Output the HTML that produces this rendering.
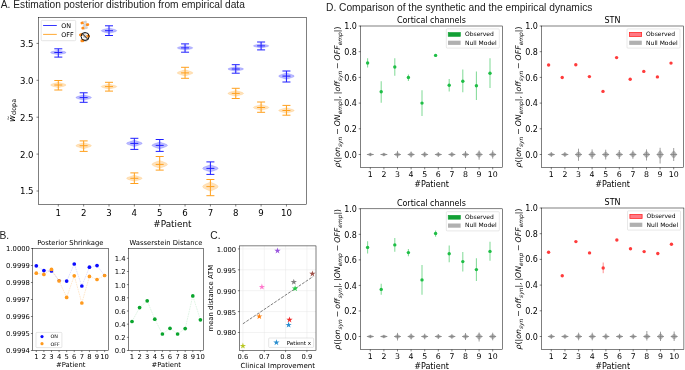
<!DOCTYPE html>
<html lang="en"><head><meta charset="utf-8"><title>Figure</title>
<style>
html,body{margin:0;padding:0;background:#fff}
body{width:685px;height:370px;overflow:hidden}
svg{display:block}
svg text{font-family:"DejaVu Sans","Liberation Sans",sans-serif;fill:#000;text-anchor:middle}
svg text.lb{font-family:"Liberation Sans","DejaVu Sans",sans-serif;fill:#222}
svg text.s{text-anchor:start}
svg text.e{text-anchor:end}
</style>
</head><body>
<svg width="685" height="370" viewBox="0 0 685 370" role="img" aria-label="Figure with panels A to D">
<rect width="685" height="370" fill="#fff"/>
<text class="lb s" x="0.80" y="7.90" font-size="10.2">A. Estimation posterior distribution from empirical data</text>
<text class="lb s" x="-0.60" y="238.90" font-size="10.25">B.</text>
<text class="lb s" x="210.30" y="238.90" font-size="10.25">C.</text>
<text class="lb s" x="326.00" y="10.80" font-size="10.23">D. Comparison of the synthetic and the empirical dynamics</text>
<rect x="38.50" y="17.50" width="268.00" height="187.00" fill="#fff" stroke="none"/>
<path d="M58.3,82.1 L59.3,82.5 L61.2,83.0 L63.1,83.5 L64.7,84.0 L65.7,84.5 L66.1,85.0 L65.7,85.5 L64.7,86.0 L63.1,86.5 L61.2,87.0 L59.3,87.5 L58.3,87.9 L58.3,87.9 L57.3,87.5 L55.4,87.0 L53.5,86.5 L51.9,86.0 L50.9,85.5 L50.5,85.0 L50.9,84.5 L51.9,84.0 L53.5,83.5 L55.4,83.0 L57.3,82.5 L58.3,82.1Z" fill="#ffa01e" fill-opacity="0.3" stroke="#ffa01e" stroke-opacity="0.3" stroke-width="0.5"/>
<g stroke="#ffa01e" stroke-width="1.0" fill="none"><line x1="58.30" y1="80.50" x2="58.30" y2="90.00"/><line x1="54.30" y1="80.50" x2="62.30" y2="80.50"/><line x1="54.30" y1="90.00" x2="62.30" y2="90.00"/><line x1="54.30" y1="85.00" x2="62.30" y2="85.00"/></g>
<path d="M83.7,142.4 L84.7,143.0 L86.5,143.5 L88.4,144.1 L90.0,144.6 L91.1,145.2 L91.5,145.7 L91.1,146.2 L90.0,146.8 L88.4,147.3 L86.5,147.9 L84.7,148.4 L83.7,149.0 L83.7,149.0 L82.6,148.4 L80.8,147.9 L78.9,147.3 L77.3,146.8 L76.2,146.2 L75.9,145.7 L76.2,145.2 L77.3,144.6 L78.9,144.1 L80.8,143.5 L82.6,143.0 L83.7,142.4Z" fill="#ffa01e" fill-opacity="0.3" stroke="#ffa01e" stroke-opacity="0.3" stroke-width="0.5"/>
<g stroke="#ffa01e" stroke-width="1.0" fill="none"><line x1="83.65" y1="140.90" x2="83.65" y2="151.40"/><line x1="79.65" y1="140.90" x2="87.65" y2="140.90"/><line x1="79.65" y1="151.40" x2="87.65" y2="151.40"/><line x1="79.65" y1="145.70" x2="87.65" y2="145.70"/></g>
<path d="M109.0,83.9 L110.0,84.3 L111.9,84.8 L113.8,85.2 L115.4,85.7 L116.4,86.1 L116.8,86.6 L116.4,87.1 L115.4,87.5 L113.8,88.0 L111.9,88.4 L110.0,88.9 L109.0,89.3 L109.0,89.3 L108.0,88.9 L106.1,88.4 L104.2,88.0 L102.6,87.5 L101.6,87.1 L101.2,86.6 L101.6,86.1 L102.6,85.7 L104.2,85.2 L106.1,84.8 L108.0,84.3 L109.0,83.9Z" fill="#ffa01e" fill-opacity="0.3" stroke="#ffa01e" stroke-opacity="0.3" stroke-width="0.5"/>
<g stroke="#ffa01e" stroke-width="1.0" fill="none"><line x1="109.00" y1="82.30" x2="109.00" y2="91.10"/><line x1="105.00" y1="82.30" x2="113.00" y2="82.30"/><line x1="105.00" y1="91.10" x2="113.00" y2="91.10"/><line x1="105.00" y1="86.60" x2="113.00" y2="86.60"/></g>
<path d="M134.4,175.0 L135.4,175.6 L137.2,176.1 L139.1,176.7 L140.7,177.2 L141.8,177.8 L142.2,178.3 L141.8,178.8 L140.7,179.4 L139.1,179.9 L137.2,180.5 L135.4,181.0 L134.4,181.6 L134.4,181.6 L133.3,181.0 L131.5,180.5 L129.6,179.9 L128.0,179.4 L126.9,178.8 L126.6,178.3 L126.9,177.8 L128.0,177.2 L129.6,176.7 L131.5,176.1 L133.3,175.6 L134.4,175.0Z" fill="#ffa01e" fill-opacity="0.3" stroke="#ffa01e" stroke-opacity="0.3" stroke-width="0.5"/>
<g stroke="#ffa01e" stroke-width="1.0" fill="none"><line x1="134.35" y1="172.90" x2="134.35" y2="183.50"/><line x1="130.35" y1="172.90" x2="138.35" y2="172.90"/><line x1="130.35" y1="183.50" x2="138.35" y2="183.50"/><line x1="130.35" y1="178.30" x2="138.35" y2="178.30"/></g>
<path d="M159.7,160.2 L160.7,160.9 L162.6,161.6 L164.5,162.3 L166.1,163.0 L167.1,163.7 L167.5,164.4 L167.1,165.1 L166.1,165.8 L164.5,166.5 L162.6,167.2 L160.7,167.9 L159.7,168.6 L159.7,168.6 L158.7,167.9 L156.8,167.2 L154.9,166.5 L153.3,165.8 L152.3,165.1 L151.9,164.4 L152.3,163.7 L153.3,163.0 L154.9,162.3 L156.8,161.6 L158.7,160.9 L159.7,160.2Z" fill="#ffa01e" fill-opacity="0.3" stroke="#ffa01e" stroke-opacity="0.3" stroke-width="0.5"/>
<g stroke="#ffa01e" stroke-width="1.0" fill="none"><line x1="159.70" y1="156.50" x2="159.70" y2="170.10"/><line x1="155.70" y1="156.50" x2="163.70" y2="156.50"/><line x1="155.70" y1="170.10" x2="163.70" y2="170.10"/><line x1="155.70" y1="164.40" x2="163.70" y2="164.40"/></g>
<path d="M185.1,69.5 L186.1,70.1 L187.9,70.6 L189.8,71.2 L191.4,71.8 L192.5,72.3 L192.9,72.9 L192.5,73.5 L191.4,74.0 L189.8,74.6 L187.9,75.2 L186.1,75.7 L185.1,76.3 L185.1,76.3 L184.0,75.7 L182.2,75.2 L180.3,74.6 L178.7,74.0 L177.6,73.5 L177.2,72.9 L177.6,72.3 L178.7,71.8 L180.3,71.2 L182.2,70.6 L184.0,70.1 L185.1,69.5Z" fill="#ffa01e" fill-opacity="0.3" stroke="#ffa01e" stroke-opacity="0.3" stroke-width="0.5"/>
<g stroke="#ffa01e" stroke-width="1.0" fill="none"><line x1="185.05" y1="67.30" x2="185.05" y2="78.30"/><line x1="181.05" y1="67.30" x2="189.05" y2="67.30"/><line x1="181.05" y1="78.30" x2="189.05" y2="78.30"/><line x1="181.05" y1="72.90" x2="189.05" y2="72.90"/></g>
<path d="M210.4,181.6 L211.4,182.4 L213.3,183.3 L215.2,184.1 L216.8,184.9 L217.8,185.8 L218.2,186.6 L217.8,187.4 L216.8,188.3 L215.2,189.1 L213.3,189.9 L211.4,190.8 L210.4,191.6 L210.4,191.6 L209.4,190.8 L207.5,189.9 L205.6,189.1 L204.0,188.3 L203.0,187.4 L202.6,186.6 L203.0,185.8 L204.0,184.9 L205.6,184.1 L207.5,183.3 L209.4,182.4 L210.4,181.6Z" fill="#ffa01e" fill-opacity="0.3" stroke="#ffa01e" stroke-opacity="0.3" stroke-width="0.5"/>
<g stroke="#ffa01e" stroke-width="1.0" fill="none"><line x1="210.40" y1="179.50" x2="210.40" y2="195.70"/><line x1="206.40" y1="179.50" x2="214.40" y2="179.50"/><line x1="206.40" y1="195.70" x2="214.40" y2="195.70"/><line x1="206.40" y1="186.60" x2="214.40" y2="186.60"/></g>
<path d="M235.8,90.2 L236.8,90.8 L238.6,91.3 L240.5,91.8 L242.1,92.3 L243.2,92.9 L243.6,93.4 L243.2,93.9 L242.1,94.5 L240.5,95.0 L238.6,95.5 L236.8,96.0 L235.8,96.6 L235.8,96.6 L234.7,96.0 L232.9,95.5 L231.0,95.0 L229.4,94.5 L228.3,93.9 L227.9,93.4 L228.3,92.9 L229.4,92.3 L231.0,91.8 L232.9,91.3 L234.7,90.8 L235.8,90.2Z" fill="#ffa01e" fill-opacity="0.3" stroke="#ffa01e" stroke-opacity="0.3" stroke-width="0.5"/>
<g stroke="#ffa01e" stroke-width="1.0" fill="none"><line x1="235.75" y1="88.30" x2="235.75" y2="98.50"/><line x1="231.75" y1="88.30" x2="239.75" y2="88.30"/><line x1="231.75" y1="98.50" x2="239.75" y2="98.50"/><line x1="231.75" y1="93.40" x2="239.75" y2="93.40"/></g>
<path d="M261.1,104.3 L262.1,104.8 L264.0,105.4 L265.9,105.9 L267.5,106.4 L268.5,107.0 L268.9,107.5 L268.5,108.0 L267.5,108.6 L265.9,109.1 L264.0,109.6 L262.1,110.2 L261.1,110.7 L261.1,110.7 L260.1,110.2 L258.2,109.6 L256.3,109.1 L254.7,108.6 L253.7,108.0 L253.3,107.5 L253.7,107.0 L254.7,106.4 L256.3,105.9 L258.2,105.4 L260.1,104.8 L261.1,104.3Z" fill="#ffa01e" fill-opacity="0.3" stroke="#ffa01e" stroke-opacity="0.3" stroke-width="0.5"/>
<g stroke="#ffa01e" stroke-width="1.0" fill="none"><line x1="261.10" y1="102.00" x2="261.10" y2="112.30"/><line x1="257.10" y1="102.00" x2="265.10" y2="102.00"/><line x1="257.10" y1="112.30" x2="265.10" y2="112.30"/><line x1="257.10" y1="107.50" x2="265.10" y2="107.50"/></g>
<path d="M286.4,107.5 L287.5,108.0 L289.3,108.5 L291.2,109.0 L292.8,109.5 L293.9,110.0 L294.2,110.5 L293.9,111.0 L292.8,111.5 L291.2,112.0 L289.3,112.5 L287.5,113.0 L286.4,113.5 L286.4,113.5 L285.4,113.0 L283.6,112.5 L281.7,112.0 L280.1,111.5 L279.0,111.0 L278.6,110.5 L279.0,110.0 L280.1,109.5 L281.7,109.0 L283.6,108.5 L285.4,108.0 L286.4,107.5Z" fill="#ffa01e" fill-opacity="0.3" stroke="#ffa01e" stroke-opacity="0.3" stroke-width="0.5"/>
<g stroke="#ffa01e" stroke-width="1.0" fill="none"><line x1="286.45" y1="105.40" x2="286.45" y2="115.20"/><line x1="282.45" y1="105.40" x2="290.45" y2="105.40"/><line x1="282.45" y1="115.20" x2="290.45" y2="115.20"/><line x1="282.45" y1="110.50" x2="290.45" y2="110.50"/></g>
<path d="M58.3,49.9 L59.3,50.4 L61.2,50.8 L63.1,51.2 L64.7,51.6 L65.7,52.1 L66.1,52.5 L65.7,52.9 L64.7,53.4 L63.1,53.8 L61.2,54.2 L59.3,54.6 L58.3,55.1 L58.3,55.1 L57.3,54.6 L55.4,54.2 L53.5,53.8 L51.9,53.4 L50.9,52.9 L50.5,52.5 L50.9,52.1 L51.9,51.6 L53.5,51.2 L55.4,50.8 L57.3,50.4 L58.3,49.9Z" fill="#1f1fff" fill-opacity="0.3" stroke="#1f1fff" stroke-opacity="0.3" stroke-width="0.5"/>
<g stroke="#1f1fff" stroke-width="1.0" fill="none"><line x1="58.30" y1="48.80" x2="58.30" y2="57.10"/><line x1="54.30" y1="48.80" x2="62.30" y2="48.80"/><line x1="54.30" y1="57.10" x2="62.30" y2="57.10"/><line x1="54.30" y1="52.50" x2="62.30" y2="52.50"/></g>
<path d="M83.7,94.7 L84.7,95.1 L86.5,95.6 L88.4,96.1 L90.0,96.6 L91.1,97.1 L91.5,97.6 L91.1,98.1 L90.0,98.6 L88.4,99.1 L86.5,99.6 L84.7,100.1 L83.7,100.5 L83.7,100.5 L82.6,100.1 L80.8,99.6 L78.9,99.1 L77.3,98.6 L76.2,98.1 L75.9,97.6 L76.2,97.1 L77.3,96.6 L78.9,96.1 L80.8,95.6 L82.6,95.1 L83.7,94.7Z" fill="#1f1fff" fill-opacity="0.3" stroke="#1f1fff" stroke-opacity="0.3" stroke-width="0.5"/>
<g stroke="#1f1fff" stroke-width="1.0" fill="none"><line x1="83.65" y1="92.80" x2="83.65" y2="102.30"/><line x1="79.65" y1="92.80" x2="87.65" y2="92.80"/><line x1="79.65" y1="102.30" x2="87.65" y2="102.30"/><line x1="79.65" y1="97.60" x2="87.65" y2="97.60"/></g>
<path d="M109.0,27.7 L110.0,28.2 L111.9,28.7 L113.8,29.2 L115.4,29.7 L116.4,30.2 L116.8,30.7 L116.4,31.2 L115.4,31.7 L113.8,32.2 L111.9,32.7 L110.0,33.2 L109.0,33.7 L109.0,33.7 L108.0,33.2 L106.1,32.7 L104.2,32.2 L102.6,31.7 L101.6,31.2 L101.2,30.7 L101.6,30.2 L102.6,29.7 L104.2,29.2 L106.1,28.7 L108.0,28.2 L109.0,27.7Z" fill="#1f1fff" fill-opacity="0.3" stroke="#1f1fff" stroke-opacity="0.3" stroke-width="0.5"/>
<g stroke="#1f1fff" stroke-width="1.0" fill="none"><line x1="109.00" y1="25.80" x2="109.00" y2="35.50"/><line x1="105.00" y1="25.80" x2="113.00" y2="25.80"/><line x1="105.00" y1="35.50" x2="113.00" y2="35.50"/><line x1="105.00" y1="30.70" x2="113.00" y2="30.70"/></g>
<path d="M134.4,140.0 L135.4,140.5 L137.2,141.1 L139.1,141.7 L140.7,142.3 L141.8,142.8 L142.2,143.4 L141.8,144.0 L140.7,144.5 L139.1,145.1 L137.2,145.7 L135.4,146.3 L134.4,146.8 L134.4,146.8 L133.3,146.3 L131.5,145.7 L129.6,145.1 L128.0,144.5 L126.9,144.0 L126.6,143.4 L126.9,142.8 L128.0,142.3 L129.6,141.7 L131.5,141.1 L133.3,140.5 L134.4,140.0Z" fill="#1f1fff" fill-opacity="0.3" stroke="#1f1fff" stroke-opacity="0.3" stroke-width="0.5"/>
<g stroke="#1f1fff" stroke-width="1.0" fill="none"><line x1="134.35" y1="138.30" x2="134.35" y2="149.40"/><line x1="130.35" y1="138.30" x2="138.35" y2="138.30"/><line x1="130.35" y1="149.40" x2="138.35" y2="149.40"/><line x1="130.35" y1="143.40" x2="138.35" y2="143.40"/></g>
<path d="M159.7,141.7 L160.7,142.3 L162.6,142.9 L164.5,143.6 L166.1,144.2 L167.1,144.8 L167.5,145.4 L167.1,146.0 L166.1,146.6 L164.5,147.2 L162.6,147.9 L160.7,148.5 L159.7,149.1 L159.7,149.1 L158.7,148.5 L156.8,147.9 L154.9,147.2 L153.3,146.6 L152.3,146.0 L151.9,145.4 L152.3,144.8 L153.3,144.2 L154.9,143.6 L156.8,142.9 L158.7,142.3 L159.7,141.7Z" fill="#1f1fff" fill-opacity="0.3" stroke="#1f1fff" stroke-opacity="0.3" stroke-width="0.5"/>
<g stroke="#1f1fff" stroke-width="1.0" fill="none"><line x1="159.70" y1="139.50" x2="159.70" y2="151.40"/><line x1="155.70" y1="139.50" x2="163.70" y2="139.50"/><line x1="155.70" y1="151.40" x2="163.70" y2="151.40"/><line x1="155.70" y1="145.40" x2="163.70" y2="145.40"/></g>
<path d="M185.1,45.3 L186.1,45.8 L187.9,46.2 L189.8,46.6 L191.4,47.0 L192.5,47.5 L192.9,47.9 L192.5,48.3 L191.4,48.8 L189.8,49.2 L187.9,49.6 L186.1,50.0 L185.1,50.5 L185.1,50.5 L184.0,50.0 L182.2,49.6 L180.3,49.2 L178.7,48.8 L177.6,48.3 L177.2,47.9 L177.6,47.5 L178.7,47.0 L180.3,46.6 L182.2,46.2 L184.0,45.8 L185.1,45.3Z" fill="#1f1fff" fill-opacity="0.3" stroke="#1f1fff" stroke-opacity="0.3" stroke-width="0.5"/>
<g stroke="#1f1fff" stroke-width="1.0" fill="none"><line x1="185.05" y1="43.90" x2="185.05" y2="52.20"/><line x1="181.05" y1="43.90" x2="189.05" y2="43.90"/><line x1="181.05" y1="52.20" x2="189.05" y2="52.20"/><line x1="181.05" y1="47.90" x2="189.05" y2="47.90"/></g>
<path d="M210.4,164.5 L211.4,165.2 L213.3,165.8 L215.2,166.5 L216.8,167.1 L217.8,167.8 L218.2,168.4 L217.8,169.0 L216.8,169.7 L215.2,170.3 L213.3,171.0 L211.4,171.6 L210.4,172.3 L210.4,172.3 L209.4,171.6 L207.5,171.0 L205.6,170.3 L204.0,169.7 L203.0,169.0 L202.6,168.4 L203.0,167.8 L204.0,167.1 L205.6,166.5 L207.5,165.8 L209.4,165.2 L210.4,164.5Z" fill="#1f1fff" fill-opacity="0.3" stroke="#1f1fff" stroke-opacity="0.3" stroke-width="0.5"/>
<g stroke="#1f1fff" stroke-width="1.0" fill="none"><line x1="210.40" y1="161.90" x2="210.40" y2="174.40"/><line x1="206.40" y1="161.90" x2="214.40" y2="161.90"/><line x1="206.40" y1="174.40" x2="214.40" y2="174.40"/><line x1="206.40" y1="168.40" x2="214.40" y2="168.40"/></g>
<path d="M235.8,66.4 L236.8,66.8 L238.6,67.2 L240.5,67.7 L242.1,68.1 L243.2,68.6 L243.6,69.0 L243.2,69.4 L242.1,69.9 L240.5,70.3 L238.6,70.8 L236.8,71.2 L235.8,71.6 L235.8,71.6 L234.7,71.2 L232.9,70.8 L231.0,70.3 L229.4,69.9 L228.3,69.4 L227.9,69.0 L228.3,68.6 L229.4,68.1 L231.0,67.7 L232.9,67.2 L234.7,66.8 L235.8,66.4Z" fill="#1f1fff" fill-opacity="0.3" stroke="#1f1fff" stroke-opacity="0.3" stroke-width="0.5"/>
<g stroke="#1f1fff" stroke-width="1.0" fill="none"><line x1="235.75" y1="64.70" x2="235.75" y2="73.20"/><line x1="231.75" y1="64.70" x2="239.75" y2="64.70"/><line x1="231.75" y1="73.20" x2="239.75" y2="73.20"/><line x1="231.75" y1="69.00" x2="239.75" y2="69.00"/></g>
<path d="M261.1,43.5 L262.1,43.9 L264.0,44.3 L265.9,44.7 L267.5,45.1 L268.5,45.5 L268.9,45.9 L268.5,46.3 L267.5,46.7 L265.9,47.1 L264.0,47.5 L262.1,47.9 L261.1,48.3 L261.1,48.3 L260.1,47.9 L258.2,47.5 L256.3,47.1 L254.7,46.7 L253.7,46.3 L253.3,45.9 L253.7,45.5 L254.7,45.1 L256.3,44.7 L258.2,44.3 L260.1,43.9 L261.1,43.5Z" fill="#1f1fff" fill-opacity="0.3" stroke="#1f1fff" stroke-opacity="0.3" stroke-width="0.5"/>
<g stroke="#1f1fff" stroke-width="1.0" fill="none"><line x1="261.10" y1="42.00" x2="261.10" y2="49.90"/><line x1="257.10" y1="42.00" x2="265.10" y2="42.00"/><line x1="257.10" y1="49.90" x2="265.10" y2="49.90"/><line x1="257.10" y1="45.90" x2="265.10" y2="45.90"/></g>
<path d="M286.4,72.7 L287.5,73.3 L289.3,73.8 L291.2,74.4 L292.8,75.0 L293.9,75.5 L294.2,76.1 L293.9,76.7 L292.8,77.2 L291.2,77.8 L289.3,78.4 L287.5,78.9 L286.4,79.5 L286.4,79.5 L285.4,78.9 L283.6,78.4 L281.7,77.8 L280.1,77.2 L279.0,76.7 L278.6,76.1 L279.0,75.5 L280.1,75.0 L281.7,74.4 L283.6,73.8 L285.4,73.3 L286.4,72.7Z" fill="#1f1fff" fill-opacity="0.3" stroke="#1f1fff" stroke-opacity="0.3" stroke-width="0.5"/>
<g stroke="#1f1fff" stroke-width="1.0" fill="none"><line x1="286.45" y1="71.00" x2="286.45" y2="82.00"/><line x1="282.45" y1="71.00" x2="290.45" y2="71.00"/><line x1="282.45" y1="82.00" x2="290.45" y2="82.00"/><line x1="282.45" y1="76.10" x2="290.45" y2="76.10"/></g>
<rect x="38.50" y="17.50" width="268.00" height="187.00" fill="none" stroke="#000" stroke-width="0.5"/>
<line x1="58.30" y1="204.50" x2="58.30" y2="206.50" stroke="#000" stroke-width="0.5"/>
<text x="58.30" y="215.60" font-size="8.6">1</text>
<line x1="83.65" y1="204.50" x2="83.65" y2="206.50" stroke="#000" stroke-width="0.5"/>
<text x="83.65" y="215.60" font-size="8.6">2</text>
<line x1="109.00" y1="204.50" x2="109.00" y2="206.50" stroke="#000" stroke-width="0.5"/>
<text x="109.00" y="215.60" font-size="8.6">3</text>
<line x1="134.35" y1="204.50" x2="134.35" y2="206.50" stroke="#000" stroke-width="0.5"/>
<text x="134.35" y="215.60" font-size="8.6">4</text>
<line x1="159.70" y1="204.50" x2="159.70" y2="206.50" stroke="#000" stroke-width="0.5"/>
<text x="159.70" y="215.60" font-size="8.6">5</text>
<line x1="185.05" y1="204.50" x2="185.05" y2="206.50" stroke="#000" stroke-width="0.5"/>
<text x="185.05" y="215.60" font-size="8.6">6</text>
<line x1="210.40" y1="204.50" x2="210.40" y2="206.50" stroke="#000" stroke-width="0.5"/>
<text x="210.40" y="215.60" font-size="8.6">7</text>
<line x1="235.75" y1="204.50" x2="235.75" y2="206.50" stroke="#000" stroke-width="0.5"/>
<text x="235.75" y="215.60" font-size="8.6">8</text>
<line x1="261.10" y1="204.50" x2="261.10" y2="206.50" stroke="#000" stroke-width="0.5"/>
<text x="261.10" y="215.60" font-size="8.6">9</text>
<line x1="286.45" y1="204.50" x2="286.45" y2="206.50" stroke="#000" stroke-width="0.5"/>
<text x="286.45" y="215.60" font-size="8.6">10</text>
<line x1="36.50" y1="43.40" x2="38.50" y2="43.40" stroke="#000" stroke-width="0.5"/>
<text class="e" x="33.60" y="46.80" font-size="8.6">3.5</text>
<line x1="36.50" y1="80.30" x2="38.50" y2="80.30" stroke="#000" stroke-width="0.5"/>
<text class="e" x="33.60" y="83.70" font-size="8.6">3.0</text>
<line x1="36.50" y1="117.20" x2="38.50" y2="117.20" stroke="#000" stroke-width="0.5"/>
<text class="e" x="33.60" y="120.60" font-size="8.6">2.5</text>
<line x1="36.50" y1="154.10" x2="38.50" y2="154.10" stroke="#000" stroke-width="0.5"/>
<text class="e" x="33.60" y="157.50" font-size="8.6">2.0</text>
<line x1="36.50" y1="191.00" x2="38.50" y2="191.00" stroke="#000" stroke-width="0.5"/>
<text class="e" x="33.60" y="194.40" font-size="8.6">1.5</text>
<text x="172.40" y="226.80" font-size="8.85">#Patient</text>
<g transform="translate(14.8,111.5) rotate(-90)"><text class="s" x="-10.6" y="0" font-size="8.4" font-style="italic">w</text><text class="s" x="-9.3" y="-4.5" font-size="6">~</text><text class="s" x="-3.4" y="1.6" font-size="6.4">dopa</text></g>
<rect x="41.2" y="20.4" width="34.5" height="20.3" rx="1" fill="#fff" fill-opacity="0.8" stroke="#ccc" stroke-width="0.5"/>
<line x1="43.1" y1="25.5" x2="56.8" y2="25.5" stroke="#1f1fff" stroke-width="0.9"/>
<line x1="43.1" y1="34.4" x2="56.8" y2="34.4" stroke="#ffa01e" stroke-width="0.9"/>
<text class="s" x="61.20" y="27.70" font-size="6.4">ON</text>
<text class="s" x="61.20" y="36.80" font-size="6.4">OFF</text>
<g transform="translate(83.7,22.5) rotate(-15)"><path d="M0,-1.35 H-1.9499999999999997 A1.35,1.35 0 0 0 -1.9499999999999997,1.35 H0 Z" fill="#ff8c1a"/><path d="M0,-1.35 H1.9499999999999997 A1.35,1.35 0 0 1 1.9499999999999997,1.35 H0 Z" fill="#d4d4d4"/></g>
<g transform="translate(86.0,24.9) rotate(-10)"><path d="M0,-1.35 H-1.9499999999999997 A1.35,1.35 0 0 0 -1.9499999999999997,1.35 H0 Z" fill="#d4d4d4"/><path d="M0,-1.35 H1.9499999999999997 A1.35,1.35 0 0 1 1.9499999999999997,1.35 H0 Z" fill="#ff8c1a"/></g>
<g transform="translate(84.6,27.9) rotate(-8)"><path d="M0,-1.35 H-1.9499999999999997 A1.35,1.35 0 0 0 -1.9499999999999997,1.35 H0 Z" fill="#ff8c1a"/><path d="M0,-1.35 H1.9499999999999997 A1.35,1.35 0 0 1 1.9499999999999997,1.35 H0 Z" fill="#d4d4d4"/></g>
<g transform="translate(82.5,34.3) rotate(-15)"><path d="M0,-1.45 H-2.1500000000000004 A1.45,1.45 0 0 0 -2.1500000000000004,1.45 H0 Z" fill="#ff8c1a"/><path d="M0,-1.45 H2.1500000000000004 A1.45,1.45 0 0 1 2.1500000000000004,1.45 H0 Z" fill="#d4d4d4"/></g>
<g transform="translate(86.5,36.4) rotate(-10)"><path d="M0,-1.45 H-2.1500000000000004 A1.45,1.45 0 0 0 -2.1500000000000004,1.45 H0 Z" fill="#d4d4d4"/><path d="M0,-1.45 H2.1500000000000004 A1.45,1.45 0 0 1 2.1500000000000004,1.45 H0 Z" fill="#ff8c1a"/></g>
<g transform="translate(84.0,40.5) rotate(-8)"><path d="M0,-1.45 H-2.1500000000000004 A1.45,1.45 0 0 0 -2.1500000000000004,1.45 H0 Z" fill="#ff8c1a"/><path d="M0,-1.45 H2.1500000000000004 A1.45,1.45 0 0 1 2.1500000000000004,1.45 H0 Z" fill="#d4d4d4"/></g>
<circle cx="85.1" cy="36.5" r="4.0" fill="none" stroke="#111" stroke-width="1.0"/><line x1="82.3" y1="33.7" x2="87.9" y2="39.3" stroke="#111" stroke-width="1.0"/>
<rect x="32.50" y="248.50" width="76.00" height="102.00" fill="#fff" stroke="none"/>
<clipPath id="cB1"><rect x="32.5" y="248.5" width="76.0" height="102.0"/></clipPath>
<g clip-path="url(#cB1)">
<polyline points="36.30,265.80 43.89,270.60 51.48,271.00 59.07,280.60 66.66,281.10 74.25,264.00 81.84,286.00 89.43,267.20 97.02,265.60 104.61,275.50" fill="none" stroke="#0a0aff" stroke-opacity="0.25" stroke-width="0.5" stroke-dasharray="1.7 0.8"/>
<circle cx="36.30" cy="265.80" r="1.85" fill="#0a0aff"/>
<circle cx="43.89" cy="270.60" r="1.85" fill="#0a0aff"/>
<circle cx="51.48" cy="271.00" r="1.85" fill="#0a0aff"/>
<circle cx="59.07" cy="280.60" r="1.45" fill="#0a0aff"/>
<circle cx="66.66" cy="281.10" r="1.85" fill="#0a0aff"/>
<circle cx="74.25" cy="264.00" r="1.85" fill="#0a0aff"/>
<circle cx="81.84" cy="286.00" r="1.85" fill="#0a0aff"/>
<circle cx="89.43" cy="267.20" r="1.85" fill="#0a0aff"/>
<circle cx="97.02" cy="265.60" r="1.85" fill="#0a0aff"/>
<circle cx="104.61" cy="275.50" r="1.45" fill="#0a0aff"/>
<polyline points="36.30,273.20 43.89,274.40 51.48,269.40 59.07,280.90 66.66,297.40 74.25,275.80 81.84,303.00 89.43,276.40 97.02,279.50 104.61,275.50" fill="none" stroke="#ff9a1e" stroke-opacity="0.45" stroke-width="0.5" stroke-dasharray="1.7 0.8"/>
<circle cx="36.30" cy="273.20" r="1.85" fill="#ff9a1e"/>
<circle cx="43.89" cy="274.40" r="1.85" fill="#ff9a1e"/>
<circle cx="51.48" cy="269.40" r="1.85" fill="#ff9a1e"/>
<circle cx="59.07" cy="280.90" r="1.85" fill="#ff9a1e"/>
<circle cx="66.66" cy="297.40" r="1.85" fill="#ff9a1e"/>
<circle cx="74.25" cy="275.80" r="1.85" fill="#ff9a1e"/>
<circle cx="81.84" cy="303.00" r="1.85" fill="#ff9a1e"/>
<circle cx="89.43" cy="276.40" r="1.85" fill="#ff9a1e"/>
<circle cx="97.02" cy="279.50" r="1.85" fill="#ff9a1e"/>
<circle cx="104.61" cy="275.50" r="1.85" fill="#ff9a1e"/>
</g>
<rect x="36.0" y="332.4" width="25.9" height="15.2" rx="0.8" fill="#fff" fill-opacity="0.8" stroke="#ccc" stroke-width="0.5"/>
<circle cx="42.0" cy="336.6" r="1.6" fill="#0a0aff"/><circle cx="42.0" cy="343.7" r="1.6" fill="#ff9a1e"/>
<text class="s" x="50.40" y="338.40" font-size="4.9">ON</text>
<text class="s" x="50.40" y="345.50" font-size="4.9">OFF</text>
<rect x="32.50" y="248.50" width="76.00" height="102.00" fill="none" stroke="#000" stroke-width="0.5"/>
<line x1="36.30" y1="350.50" x2="36.30" y2="352.10" stroke="#000" stroke-width="0.5"/>
<text x="36.30" y="358.80" font-size="6.8">1</text>
<line x1="43.89" y1="350.50" x2="43.89" y2="352.10" stroke="#000" stroke-width="0.5"/>
<text x="43.89" y="358.80" font-size="6.8">2</text>
<line x1="51.48" y1="350.50" x2="51.48" y2="352.10" stroke="#000" stroke-width="0.5"/>
<text x="51.48" y="358.80" font-size="6.8">3</text>
<line x1="59.07" y1="350.50" x2="59.07" y2="352.10" stroke="#000" stroke-width="0.5"/>
<text x="59.07" y="358.80" font-size="6.8">4</text>
<line x1="66.66" y1="350.50" x2="66.66" y2="352.10" stroke="#000" stroke-width="0.5"/>
<text x="66.66" y="358.80" font-size="6.8">5</text>
<line x1="74.25" y1="350.50" x2="74.25" y2="352.10" stroke="#000" stroke-width="0.5"/>
<text x="74.25" y="358.80" font-size="6.8">6</text>
<line x1="81.84" y1="350.50" x2="81.84" y2="352.10" stroke="#000" stroke-width="0.5"/>
<text x="81.84" y="358.80" font-size="6.8">7</text>
<line x1="89.43" y1="350.50" x2="89.43" y2="352.10" stroke="#000" stroke-width="0.5"/>
<text x="89.43" y="358.80" font-size="6.8">8</text>
<line x1="97.02" y1="350.50" x2="97.02" y2="352.10" stroke="#000" stroke-width="0.5"/>
<text x="97.02" y="358.80" font-size="6.8">9</text>
<line x1="104.61" y1="350.50" x2="104.61" y2="352.10" stroke="#000" stroke-width="0.5"/>
<text x="104.61" y="358.80" font-size="6.8">10</text>
<line x1="30.90" y1="248.50" x2="32.50" y2="248.50" stroke="#000" stroke-width="0.5"/>
<text class="e" x="29.90" y="251.40" font-size="6.8">1.0000</text>
<line x1="30.90" y1="265.50" x2="32.50" y2="265.50" stroke="#000" stroke-width="0.5"/>
<text class="e" x="29.90" y="268.40" font-size="6.8">0.9999</text>
<line x1="30.90" y1="282.50" x2="32.50" y2="282.50" stroke="#000" stroke-width="0.5"/>
<text class="e" x="29.90" y="285.40" font-size="6.8">0.9998</text>
<line x1="30.90" y1="299.50" x2="32.50" y2="299.50" stroke="#000" stroke-width="0.5"/>
<text class="e" x="29.90" y="302.40" font-size="6.8">0.9997</text>
<line x1="30.90" y1="316.50" x2="32.50" y2="316.50" stroke="#000" stroke-width="0.5"/>
<text class="e" x="29.90" y="319.40" font-size="6.8">0.9996</text>
<line x1="30.90" y1="333.50" x2="32.50" y2="333.50" stroke="#000" stroke-width="0.5"/>
<text class="e" x="29.90" y="336.40" font-size="6.8">0.9995</text>
<line x1="30.90" y1="350.50" x2="32.50" y2="350.50" stroke="#000" stroke-width="0.5"/>
<text class="e" x="29.90" y="353.40" font-size="6.8">0.9994</text>
<text x="70.30" y="245.40" font-size="6.8">Posterior Shrinkage</text>
<text x="70.80" y="367.40" font-size="6.8">#Patient</text>
<rect x="128.50" y="248.50" width="75.00" height="102.00" fill="#fff" stroke="none"/>
<polyline points="132.00,321.50 139.60,307.60 147.20,300.80 154.80,319.20 162.40,334.00 170.00,328.30 177.60,334.00 185.20,328.60 192.80,295.90 200.40,319.80" fill="none" stroke="#0aa52d" stroke-opacity="0.25" stroke-width="0.5" stroke-dasharray="1.7 0.8"/>
<circle cx="132.00" cy="321.50" r="1.85" fill="#0aa52d"/>
<circle cx="139.60" cy="307.60" r="1.85" fill="#0aa52d"/>
<circle cx="147.20" cy="300.80" r="1.85" fill="#0aa52d"/>
<circle cx="154.80" cy="319.20" r="1.85" fill="#0aa52d"/>
<circle cx="162.40" cy="334.00" r="1.85" fill="#0aa52d"/>
<circle cx="170.00" cy="328.30" r="1.85" fill="#0aa52d"/>
<circle cx="177.60" cy="334.00" r="1.85" fill="#0aa52d"/>
<circle cx="185.20" cy="328.60" r="1.85" fill="#0aa52d"/>
<circle cx="192.80" cy="295.90" r="1.85" fill="#0aa52d"/>
<circle cx="200.40" cy="319.80" r="1.85" fill="#0aa52d"/>
<rect x="128.50" y="248.50" width="75.00" height="102.00" fill="none" stroke="#000" stroke-width="0.5"/>
<line x1="132.00" y1="350.50" x2="132.00" y2="352.10" stroke="#000" stroke-width="0.5"/>
<text x="132.00" y="358.80" font-size="6.8">1</text>
<line x1="139.60" y1="350.50" x2="139.60" y2="352.10" stroke="#000" stroke-width="0.5"/>
<text x="139.60" y="358.80" font-size="6.8">2</text>
<line x1="147.20" y1="350.50" x2="147.20" y2="352.10" stroke="#000" stroke-width="0.5"/>
<text x="147.20" y="358.80" font-size="6.8">3</text>
<line x1="154.80" y1="350.50" x2="154.80" y2="352.10" stroke="#000" stroke-width="0.5"/>
<text x="154.80" y="358.80" font-size="6.8">4</text>
<line x1="162.40" y1="350.50" x2="162.40" y2="352.10" stroke="#000" stroke-width="0.5"/>
<text x="162.40" y="358.80" font-size="6.8">5</text>
<line x1="170.00" y1="350.50" x2="170.00" y2="352.10" stroke="#000" stroke-width="0.5"/>
<text x="170.00" y="358.80" font-size="6.8">6</text>
<line x1="177.60" y1="350.50" x2="177.60" y2="352.10" stroke="#000" stroke-width="0.5"/>
<text x="177.60" y="358.80" font-size="6.8">7</text>
<line x1="185.20" y1="350.50" x2="185.20" y2="352.10" stroke="#000" stroke-width="0.5"/>
<text x="185.20" y="358.80" font-size="6.8">8</text>
<line x1="192.80" y1="350.50" x2="192.80" y2="352.10" stroke="#000" stroke-width="0.5"/>
<text x="192.80" y="358.80" font-size="6.8">9</text>
<line x1="200.40" y1="350.50" x2="200.40" y2="352.10" stroke="#000" stroke-width="0.5"/>
<text x="200.40" y="358.80" font-size="6.8">10</text>
<line x1="126.90" y1="350.50" x2="128.50" y2="350.50" stroke="#000" stroke-width="0.5"/>
<text class="e" x="125.50" y="353.40" font-size="6.8">0.0</text>
<line x1="126.90" y1="337.33" x2="128.50" y2="337.33" stroke="#000" stroke-width="0.5"/>
<text class="e" x="125.50" y="340.23" font-size="6.8">0.2</text>
<line x1="126.90" y1="324.16" x2="128.50" y2="324.16" stroke="#000" stroke-width="0.5"/>
<text class="e" x="125.50" y="327.06" font-size="6.8">0.4</text>
<line x1="126.90" y1="310.99" x2="128.50" y2="310.99" stroke="#000" stroke-width="0.5"/>
<text class="e" x="125.50" y="313.89" font-size="6.8">0.6</text>
<line x1="126.90" y1="297.82" x2="128.50" y2="297.82" stroke="#000" stroke-width="0.5"/>
<text class="e" x="125.50" y="300.72" font-size="6.8">0.8</text>
<line x1="126.90" y1="284.65" x2="128.50" y2="284.65" stroke="#000" stroke-width="0.5"/>
<text class="e" x="125.50" y="287.55" font-size="6.8">1.0</text>
<line x1="126.90" y1="271.48" x2="128.50" y2="271.48" stroke="#000" stroke-width="0.5"/>
<text class="e" x="125.50" y="274.38" font-size="6.8">1.2</text>
<line x1="126.90" y1="258.31" x2="128.50" y2="258.31" stroke="#000" stroke-width="0.5"/>
<text class="e" x="125.50" y="261.21" font-size="6.8">1.4</text>
<text x="166.00" y="245.40" font-size="6.8">Wasserstein Distance</text>
<text x="166.30" y="367.40" font-size="6.8">#Patient</text>
<rect x="239.50" y="245.90" width="76.50" height="104.60" fill="#fff" stroke="none"/>
<line x1="242.90" y1="245.9" x2="242.90" y2="350.5" stroke="#e6e6e6" stroke-width="0.5"/>
<line x1="264.30" y1="245.9" x2="264.30" y2="350.5" stroke="#e6e6e6" stroke-width="0.5"/>
<line x1="285.60" y1="245.9" x2="285.60" y2="350.5" stroke="#e6e6e6" stroke-width="0.5"/>
<line x1="306.90" y1="245.9" x2="306.90" y2="350.5" stroke="#e6e6e6" stroke-width="0.5"/>
<line x1="239.5" y1="248.90" x2="316.0" y2="248.90" stroke="#e6e6e6" stroke-width="0.5"/>
<line x1="239.5" y1="269.80" x2="316.0" y2="269.80" stroke="#e6e6e6" stroke-width="0.5"/>
<line x1="239.5" y1="290.70" x2="316.0" y2="290.70" stroke="#e6e6e6" stroke-width="0.5"/>
<line x1="239.5" y1="311.60" x2="316.0" y2="311.60" stroke="#e6e6e6" stroke-width="0.5"/>
<line x1="239.5" y1="332.50" x2="316.0" y2="332.50" stroke="#e6e6e6" stroke-width="0.5"/>
<line x1="242.9" y1="323.8" x2="313.3" y2="276.4" stroke="#444" stroke-width="0.7" stroke-dasharray="2.9 1.3"/>
<clipPath id="cC"><rect x="239.5" y="245.9" width="76.5" height="104.6"/></clipPath>
<g clip-path="url(#cC)">
<polygon points="288.60,321.60 289.34,323.88 291.74,323.88 289.80,325.29 290.54,327.57 288.60,326.16 286.66,327.57 287.40,325.29 285.46,323.88 287.86,323.88" fill="#2a8fd0"/>
<polygon points="259.30,313.10 260.04,315.38 262.44,315.38 260.50,316.79 261.24,319.07 259.30,317.66 257.36,319.07 258.10,316.79 256.16,315.38 258.56,315.38" fill="#ff7f0e"/>
<polygon points="295.10,285.30 295.84,287.58 298.24,287.58 296.30,288.99 297.04,291.27 295.10,289.86 293.16,291.27 293.90,288.99 291.96,287.58 294.36,287.58" fill="#22cc44"/>
<polygon points="289.50,316.50 290.24,318.78 292.64,318.78 290.70,320.19 291.44,322.47 289.50,321.06 287.56,322.47 288.30,320.19 286.36,318.78 288.76,318.78" fill="#f02a2a"/>
<polygon points="277.50,247.50 278.24,249.78 280.64,249.78 278.70,251.19 279.44,253.47 277.50,252.06 275.56,253.47 276.30,251.19 274.36,249.78 276.76,249.78" fill="#9955dd"/>
<polygon points="312.40,270.50 313.14,272.78 315.54,272.78 313.60,274.19 314.34,276.47 312.40,275.06 310.46,276.47 311.20,274.19 309.26,272.78 311.66,272.78" fill="#a0524a"/>
<polygon points="261.90,283.60 262.64,285.88 265.04,285.88 263.10,287.29 263.84,289.57 261.90,288.16 259.96,289.57 260.70,287.29 258.76,285.88 261.16,285.88" fill="#ff77cc"/>
<polygon points="293.80,278.70 294.54,280.98 296.94,280.98 295.00,282.39 295.74,284.67 293.80,283.26 291.86,284.67 292.60,282.39 290.66,280.98 293.06,280.98" fill="#7f7f7f"/>
<polygon points="242.90,342.60 243.64,344.88 246.04,344.88 244.10,346.29 244.84,348.57 242.90,347.16 240.96,348.57 241.70,346.29 239.76,344.88 242.16,344.88" fill="#b9c724"/>
</g>
<rect x="268.7" y="338.0" width="44.9" height="9.4" rx="0.8" fill="#fff" fill-opacity="0.8" stroke="#ccc" stroke-width="0.5"/>
<polygon points="276.40,339.20 277.14,341.48 279.54,341.48 277.60,342.89 278.34,345.17 276.40,343.76 274.46,345.17 275.20,342.89 273.26,341.48 275.66,341.48" fill="#2a8fd0"/>
<text class="s" x="286.80" y="344.60" font-size="5.5">Patient x</text>
<rect x="239.50" y="245.90" width="76.50" height="104.60" fill="none" stroke="#000" stroke-width="0.5"/>
<line x1="242.90" y1="350.50" x2="242.90" y2="352.10" stroke="#000" stroke-width="0.5"/>
<text x="242.90" y="358.80" font-size="6.8">0.6</text>
<line x1="264.30" y1="350.50" x2="264.30" y2="352.10" stroke="#000" stroke-width="0.5"/>
<text x="264.30" y="358.80" font-size="6.8">0.7</text>
<line x1="285.60" y1="350.50" x2="285.60" y2="352.10" stroke="#000" stroke-width="0.5"/>
<text x="285.60" y="358.80" font-size="6.8">0.8</text>
<line x1="306.90" y1="350.50" x2="306.90" y2="352.10" stroke="#000" stroke-width="0.5"/>
<text x="306.90" y="358.80" font-size="6.8">0.9</text>
<line x1="237.90" y1="248.90" x2="239.50" y2="248.90" stroke="#000" stroke-width="0.5"/>
<text class="e" x="236.20" y="251.80" font-size="6.8">1.000</text>
<line x1="237.90" y1="269.80" x2="239.50" y2="269.80" stroke="#000" stroke-width="0.5"/>
<text class="e" x="236.20" y="272.70" font-size="6.8">0.995</text>
<line x1="237.90" y1="290.70" x2="239.50" y2="290.70" stroke="#000" stroke-width="0.5"/>
<text class="e" x="236.20" y="293.60" font-size="6.8">0.990</text>
<line x1="237.90" y1="311.60" x2="239.50" y2="311.60" stroke="#000" stroke-width="0.5"/>
<text class="e" x="236.20" y="314.50" font-size="6.8">0.985</text>
<line x1="237.90" y1="332.50" x2="239.50" y2="332.50" stroke="#000" stroke-width="0.5"/>
<text class="e" x="236.20" y="335.40" font-size="6.8">0.980</text>
<text x="277.70" y="367.60" font-size="7.0">Clinical Improvement</text>
<text transform="translate(212.6,298.2) rotate(-90)" font-size="6.8">mean distance ATM</text>
<rect x="360.60" y="26.00" width="142.00" height="141.50" fill="#fff" stroke="none"/>
<path d="M370.3,152.8 L371.4,153.2 L372.2,153.7 L373.0,154.1 L373.8,154.5 L373.0,154.9 L372.2,155.3 L371.4,155.8 L370.3,156.2 L369.2,155.8 L368.4,155.3 L367.6,154.9 L366.8,154.5 L367.6,154.1 L368.4,153.7 L369.2,153.2Z" fill="#808080" fill-opacity="0.6" stroke="none"/>
<path d="M370.30,152.90V156.10M366.90,154.50H373.70" stroke="#808080" stroke-width="0.75" fill="none"/>
<path d="M383.9,152.8 L385.0,153.2 L385.8,153.7 L386.6,154.1 L387.4,154.5 L386.6,154.9 L385.8,155.3 L385.0,155.8 L383.9,156.2 L382.8,155.8 L382.0,155.3 L381.2,154.9 L380.4,154.5 L381.2,154.1 L382.0,153.7 L382.8,153.2Z" fill="#808080" fill-opacity="0.6" stroke="none"/>
<path d="M383.90,152.90V156.10M380.50,154.50H387.30" stroke="#808080" stroke-width="0.75" fill="none"/>
<path d="M397.5,152.1 L398.6,152.7 L399.4,153.3 L400.2,153.9 L401.0,154.5 L400.2,155.1 L399.4,155.7 L398.6,156.3 L397.5,156.9 L396.4,156.3 L395.6,155.7 L394.8,155.1 L394.0,154.5 L394.8,153.9 L395.6,153.3 L396.4,152.7Z" fill="#808080" fill-opacity="0.6" stroke="none"/>
<path d="M397.50,150.90V158.10M394.10,154.50H400.90" stroke="#808080" stroke-width="0.75" fill="none"/>
<path d="M411.1,152.1 L412.2,152.7 L413.0,153.3 L413.8,153.9 L414.6,154.5 L413.8,155.1 L413.0,155.7 L412.2,156.3 L411.1,156.9 L410.0,156.3 L409.2,155.7 L408.4,155.1 L407.6,154.5 L408.4,153.9 L409.2,153.3 L410.0,152.7Z" fill="#808080" fill-opacity="0.6" stroke="none"/>
<path d="M411.10,151.50V157.50M407.70,154.50H414.50" stroke="#808080" stroke-width="0.75" fill="none"/>
<path d="M424.7,152.3 L425.8,152.8 L426.6,153.4 L427.4,153.9 L428.2,154.5 L427.4,155.1 L426.6,155.6 L425.8,156.2 L424.7,156.7 L423.6,156.2 L422.8,155.6 L422.0,155.1 L421.2,154.5 L422.0,153.9 L422.8,153.4 L423.6,152.8Z" fill="#808080" fill-opacity="0.6" stroke="none"/>
<path d="M424.70,151.80V157.20M421.30,154.50H428.10" stroke="#808080" stroke-width="0.75" fill="none"/>
<path d="M438.3,152.5 L439.4,153.0 L440.2,153.5 L441.0,154.0 L441.8,154.5 L441.0,155.0 L440.2,155.5 L439.4,156.0 L438.3,156.5 L437.2,156.0 L436.4,155.5 L435.6,155.0 L434.8,154.5 L435.6,154.0 L436.4,153.5 L437.2,153.0Z" fill="#808080" fill-opacity="0.6" stroke="none"/>
<path d="M438.30,152.10V156.90M434.90,154.50H441.70" stroke="#808080" stroke-width="0.75" fill="none"/>
<path d="M451.9,152.5 L453.0,153.0 L453.8,153.5 L454.6,154.0 L455.4,154.5 L454.6,155.0 L453.8,155.5 L453.0,156.0 L451.9,156.5 L450.8,156.0 L450.0,155.5 L449.2,155.0 L448.4,154.5 L449.2,154.0 L450.0,153.5 L450.8,153.0Z" fill="#808080" fill-opacity="0.6" stroke="none"/>
<path d="M451.90,152.10V156.90M448.50,154.50H455.30" stroke="#808080" stroke-width="0.75" fill="none"/>
<path d="M465.5,152.1 L466.6,152.7 L467.4,153.3 L468.2,153.9 L469.0,154.5 L468.2,155.1 L467.4,155.7 L466.6,156.3 L465.5,156.9 L464.4,156.3 L463.6,155.7 L462.8,155.1 L462.0,154.5 L462.8,153.9 L463.6,153.3 L464.4,152.7Z" fill="#808080" fill-opacity="0.6" stroke="none"/>
<path d="M465.50,151.00V158.00M462.10,154.50H468.90" stroke="#808080" stroke-width="0.75" fill="none"/>
<path d="M479.1,151.3 L480.2,152.1 L481.0,152.9 L481.8,153.7 L482.6,154.5 L481.8,155.3 L481.0,156.1 L480.2,156.9 L479.1,157.7 L478.0,156.9 L477.2,156.1 L476.4,155.3 L475.6,154.5 L476.4,153.7 L477.2,152.9 L478.0,152.1Z" fill="#808080" fill-opacity="0.6" stroke="none"/>
<path d="M479.10,150.50V159.70M475.70,154.50H482.50" stroke="#808080" stroke-width="0.75" fill="none"/>
<path d="M492.7,151.8 L493.8,152.5 L494.6,153.2 L495.4,153.8 L496.2,154.5 L495.4,155.2 L494.6,155.8 L493.8,156.5 L492.7,157.2 L491.6,156.5 L490.8,155.8 L490.0,155.2 L489.2,154.5 L490.0,153.8 L490.8,153.2 L491.6,152.5Z" fill="#808080" fill-opacity="0.6" stroke="none"/>
<path d="M492.70,150.40V158.60M489.30,154.50H496.10" stroke="#808080" stroke-width="0.75" fill="none"/>
<line x1="367.60" y1="58.20" x2="367.60" y2="67.60" stroke="#1fbe46" stroke-opacity="0.55" stroke-width="1.05"/>
<circle cx="367.60" cy="63.00" r="1.7" fill="#1fbe46"/>
<line x1="381.20" y1="81.20" x2="381.20" y2="102.80" stroke="#1fbe46" stroke-opacity="0.55" stroke-width="1.05"/>
<circle cx="381.20" cy="91.70" r="1.7" fill="#1fbe46"/>
<line x1="394.80" y1="58.20" x2="394.80" y2="75.80" stroke="#1fbe46" stroke-opacity="0.55" stroke-width="1.05"/>
<circle cx="394.80" cy="67.00" r="1.7" fill="#1fbe46"/>
<line x1="408.40" y1="74.40" x2="408.40" y2="80.90" stroke="#1fbe46" stroke-opacity="0.55" stroke-width="1.05"/>
<circle cx="408.40" cy="77.50" r="1.7" fill="#1fbe46"/>
<line x1="422.00" y1="90.30" x2="422.00" y2="116.00" stroke="#1fbe46" stroke-opacity="0.55" stroke-width="1.05"/>
<circle cx="422.00" cy="103.10" r="1.7" fill="#1fbe46"/>
<line x1="435.60" y1="54.40" x2="435.60" y2="56.40" stroke="#1fbe46" stroke-opacity="0.55" stroke-width="1.05"/>
<circle cx="435.60" cy="55.40" r="1.7" fill="#1fbe46"/>
<line x1="449.20" y1="78.90" x2="449.20" y2="91.40" stroke="#1fbe46" stroke-opacity="0.55" stroke-width="1.05"/>
<circle cx="449.20" cy="85.20" r="1.7" fill="#1fbe46"/>
<line x1="462.80" y1="69.50" x2="462.80" y2="92.30" stroke="#1fbe46" stroke-opacity="0.55" stroke-width="1.05"/>
<circle cx="462.80" cy="81.20" r="1.7" fill="#1fbe46"/>
<line x1="476.40" y1="71.50" x2="476.40" y2="99.90" stroke="#1fbe46" stroke-opacity="0.55" stroke-width="1.05"/>
<circle cx="476.40" cy="85.70" r="1.7" fill="#1fbe46"/>
<line x1="490.00" y1="58.20" x2="490.00" y2="88.00" stroke="#1fbe46" stroke-opacity="0.55" stroke-width="1.05"/>
<circle cx="490.00" cy="73.20" r="1.7" fill="#1fbe46"/>
<rect x="446.30" y="28.90" width="53.0" height="19.2" rx="0.9" fill="#fff" fill-opacity="0.8" stroke="#d0d0d0" stroke-width="0.5"/>
<rect x="448.20" y="32.50" width="12.2" height="3.9" fill="#12a035" stroke="#12a035" stroke-width="0.6"/>
<rect x="448.00" y="40.70" width="12.6" height="4.2" fill="#b0b0b0"/>
<text class="s" x="465.00" y="35.95" font-size="6.0">Observed</text>
<text class="s" x="465.00" y="44.60" font-size="6.0">Null Model</text>
<rect x="360.60" y="26.00" width="142.00" height="141.50" fill="none" stroke="#000" stroke-width="0.5"/>
<line x1="370.30" y1="167.50" x2="370.30" y2="169.40" stroke="#000" stroke-width="0.5"/>
<text x="370.30" y="177.30" font-size="7.8">1</text>
<line x1="383.90" y1="167.50" x2="383.90" y2="169.40" stroke="#000" stroke-width="0.5"/>
<text x="383.90" y="177.30" font-size="7.8">2</text>
<line x1="397.50" y1="167.50" x2="397.50" y2="169.40" stroke="#000" stroke-width="0.5"/>
<text x="397.50" y="177.30" font-size="7.8">3</text>
<line x1="411.10" y1="167.50" x2="411.10" y2="169.40" stroke="#000" stroke-width="0.5"/>
<text x="411.10" y="177.30" font-size="7.8">4</text>
<line x1="424.70" y1="167.50" x2="424.70" y2="169.40" stroke="#000" stroke-width="0.5"/>
<text x="424.70" y="177.30" font-size="7.8">5</text>
<line x1="438.30" y1="167.50" x2="438.30" y2="169.40" stroke="#000" stroke-width="0.5"/>
<text x="438.30" y="177.30" font-size="7.8">6</text>
<line x1="451.90" y1="167.50" x2="451.90" y2="169.40" stroke="#000" stroke-width="0.5"/>
<text x="451.90" y="177.30" font-size="7.8">7</text>
<line x1="465.50" y1="167.50" x2="465.50" y2="169.40" stroke="#000" stroke-width="0.5"/>
<text x="465.50" y="177.30" font-size="7.8">8</text>
<line x1="479.10" y1="167.50" x2="479.10" y2="169.40" stroke="#000" stroke-width="0.5"/>
<text x="479.10" y="177.30" font-size="7.8">9</text>
<line x1="492.70" y1="167.50" x2="492.70" y2="169.40" stroke="#000" stroke-width="0.5"/>
<text x="492.70" y="177.30" font-size="7.8">10</text>
<line x1="358.70" y1="26.00" x2="360.60" y2="26.00" stroke="#000" stroke-width="0.5"/>
<text class="e" x="356.90" y="29.18" font-size="8.0">1.0</text>
<line x1="358.70" y1="51.70" x2="360.60" y2="51.70" stroke="#000" stroke-width="0.5"/>
<text class="e" x="356.90" y="54.88" font-size="8.0">0.8</text>
<line x1="358.70" y1="77.40" x2="360.60" y2="77.40" stroke="#000" stroke-width="0.5"/>
<text class="e" x="356.90" y="80.58" font-size="8.0">0.6</text>
<line x1="358.70" y1="103.10" x2="360.60" y2="103.10" stroke="#000" stroke-width="0.5"/>
<text class="e" x="356.90" y="106.28" font-size="8.0">0.4</text>
<line x1="358.70" y1="128.80" x2="360.60" y2="128.80" stroke="#000" stroke-width="0.5"/>
<text class="e" x="356.90" y="131.98" font-size="8.0">0.2</text>
<line x1="358.70" y1="154.50" x2="360.60" y2="154.50" stroke="#000" stroke-width="0.5"/>
<text class="e" x="356.90" y="157.68" font-size="8.0">0.0</text>
<text x="431.40" y="23.40" font-size="8.0">Cortical channels</text>
<text x="431.60" y="187.10" font-size="8.05">#Patient</text>
<text transform="translate(340.30,96.95) rotate(-90)" font-size="7.8"><tspan font-style="italic">ρ</tspan>(|<tspan font-style="italic">on</tspan><tspan font-style="italic" font-size="5.9" dy="1.4">syn</tspan><tspan dy="-1.4" dx="1.95">−</tspan><tspan font-style="italic" dx="1.95">ON</tspan><tspan font-style="italic" font-size="5.9" dy="1.4">emp</tspan><tspan dy="-1.4">|,</tspan><tspan dx="1.95">|</tspan><tspan font-style="italic">off</tspan><tspan font-style="italic" font-size="5.9" dy="1.4">syn</tspan><tspan dy="-1.4" dx="1.95">−</tspan><tspan font-style="italic" dx="1.95">OFF</tspan><tspan font-style="italic" font-size="5.9" dy="1.4">emp</tspan><tspan dy="-1.4">|)</tspan></text>
<rect x="541.60" y="26.00" width="142.00" height="141.50" fill="#fff" stroke="none"/>
<path d="M551.3,152.4 L552.4,152.9 L553.2,153.4 L554.0,154.0 L554.8,154.5 L554.0,155.0 L553.2,155.6 L552.4,156.1 L551.3,156.6 L550.2,156.1 L549.4,155.6 L548.6,155.0 L547.8,154.5 L548.6,154.0 L549.4,153.4 L550.2,152.9Z" fill="#808080" fill-opacity="0.6" stroke="none"/>
<path d="M551.30,152.10V156.90M547.90,154.50H554.70" stroke="#808080" stroke-width="0.75" fill="none"/>
<path d="M564.9,152.4 L566.0,152.9 L566.8,153.4 L567.6,154.0 L568.4,154.5 L567.6,155.0 L566.8,155.6 L566.0,156.1 L564.9,156.6 L563.8,156.1 L563.0,155.6 L562.2,155.0 L561.4,154.5 L562.2,154.0 L563.0,153.4 L563.8,152.9Z" fill="#808080" fill-opacity="0.6" stroke="none"/>
<path d="M564.90,152.10V156.90M561.50,154.50H568.30" stroke="#808080" stroke-width="0.75" fill="none"/>
<path d="M578.5,151.2 L579.6,152.0 L580.4,152.8 L581.2,153.7 L582.0,154.5 L581.2,155.3 L580.4,156.2 L579.6,157.0 L578.5,157.8 L577.4,157.0 L576.6,156.2 L575.8,155.3 L575.0,154.5 L575.8,153.7 L576.6,152.8 L577.4,152.0Z" fill="#808080" fill-opacity="0.6" stroke="none"/>
<path d="M578.50,148.70V160.80M575.10,154.50H581.90" stroke="#808080" stroke-width="0.75" fill="none"/>
<path d="M592.1,151.2 L593.2,152.0 L594.0,152.8 L594.8,153.7 L595.6,154.5 L594.8,155.3 L594.0,156.2 L593.2,157.0 L592.1,157.8 L591.0,157.0 L590.2,156.2 L589.4,155.3 L588.6,154.5 L589.4,153.7 L590.2,152.8 L591.0,152.0Z" fill="#808080" fill-opacity="0.6" stroke="none"/>
<path d="M592.10,149.40V159.10M588.70,154.50H595.50" stroke="#808080" stroke-width="0.75" fill="none"/>
<path d="M605.7,151.4 L606.8,152.2 L607.6,152.9 L608.4,153.7 L609.2,154.5 L608.4,155.3 L607.6,156.1 L606.8,156.8 L605.7,157.6 L604.6,156.8 L603.8,156.1 L603.0,155.3 L602.2,154.5 L603.0,153.7 L603.8,152.9 L604.6,152.2Z" fill="#808080" fill-opacity="0.6" stroke="none"/>
<path d="M605.70,149.70V159.50M602.30,154.50H609.10" stroke="#808080" stroke-width="0.75" fill="none"/>
<path d="M619.3,151.4 L620.4,152.2 L621.2,152.9 L622.0,153.7 L622.8,154.5 L622.0,155.3 L621.2,156.1 L620.4,156.8 L619.3,157.6 L618.2,156.8 L617.4,156.1 L616.6,155.3 L615.8,154.5 L616.6,153.7 L617.4,152.9 L618.2,152.2Z" fill="#808080" fill-opacity="0.6" stroke="none"/>
<path d="M619.30,150.00V159.10M615.90,154.50H622.70" stroke="#808080" stroke-width="0.75" fill="none"/>
<path d="M632.9,151.6 L634.0,152.3 L634.8,153.1 L635.6,153.8 L636.4,154.5 L635.6,155.2 L634.8,155.9 L634.0,156.7 L632.9,157.4 L631.8,156.7 L631.0,155.9 L630.2,155.2 L629.4,154.5 L630.2,153.8 L631.0,153.1 L631.8,152.3Z" fill="#808080" fill-opacity="0.6" stroke="none"/>
<path d="M632.90,150.50V158.80M629.50,154.50H636.30" stroke="#808080" stroke-width="0.75" fill="none"/>
<path d="M646.5,150.9 L647.6,151.8 L648.4,152.7 L649.2,153.6 L650.0,154.5 L649.2,155.4 L648.4,156.3 L647.6,157.2 L646.5,158.1 L645.4,157.2 L644.6,156.3 L643.8,155.4 L643.0,154.5 L643.8,153.6 L644.6,152.7 L645.4,151.8Z" fill="#808080" fill-opacity="0.6" stroke="none"/>
<path d="M646.50,149.40V160.50M643.10,154.50H649.90" stroke="#808080" stroke-width="0.75" fill="none"/>
<path d="M660.1,150.1 L661.2,151.2 L662.0,152.3 L662.8,153.4 L663.6,154.5 L662.8,155.6 L662.0,156.7 L661.2,157.8 L660.1,158.9 L659.0,157.8 L658.2,156.7 L657.4,155.6 L656.6,154.5 L657.4,153.4 L658.2,152.3 L659.0,151.2Z" fill="#808080" fill-opacity="0.6" stroke="none"/>
<path d="M660.10,147.80V163.50M656.70,154.50H663.50" stroke="#808080" stroke-width="0.75" fill="none"/>
<path d="M673.7,150.4 L674.8,151.4 L675.6,152.4 L676.4,153.5 L677.2,154.5 L676.4,155.5 L675.6,156.6 L674.8,157.6 L673.7,158.6 L672.6,157.6 L671.8,156.6 L671.0,155.5 L670.2,154.5 L671.0,153.5 L671.8,152.4 L672.6,151.4Z" fill="#808080" fill-opacity="0.6" stroke="none"/>
<path d="M673.70,148.00V161.00M670.30,154.50H677.10" stroke="#808080" stroke-width="0.75" fill="none"/>
<circle cx="548.60" cy="65.00" r="1.7" fill="#ff3b3b"/>
<circle cx="562.20" cy="77.50" r="1.7" fill="#ff3b3b"/>
<circle cx="575.80" cy="64.70" r="1.7" fill="#ff3b3b"/>
<circle cx="589.40" cy="76.60" r="1.7" fill="#ff3b3b"/>
<circle cx="603.00" cy="91.40" r="1.7" fill="#ff3b3b"/>
<circle cx="616.60" cy="57.60" r="1.7" fill="#ff3b3b"/>
<circle cx="630.20" cy="79.20" r="1.7" fill="#ff3b3b"/>
<circle cx="643.80" cy="71.40" r="1.7" fill="#ff3b3b"/>
<circle cx="657.40" cy="76.90" r="1.7" fill="#ff3b3b"/>
<circle cx="671.00" cy="63.10" r="1.7" fill="#ff3b3b"/>
<rect x="627.00" y="28.90" width="53.0" height="19.2" rx="0.9" fill="#fff" fill-opacity="0.8" stroke="#d0d0d0" stroke-width="0.5"/>
<rect x="629.40" y="32.50" width="12.2" height="3.9" fill="#ff7a85" stroke="#ff2a2a" stroke-width="0.8"/>
<rect x="629.20" y="40.70" width="12.6" height="4.2" fill="#b0b0b0"/>
<text class="s" x="646.10" y="35.95" font-size="6.0">Observed</text>
<text class="s" x="646.10" y="44.60" font-size="6.0">Null Model</text>
<rect x="541.60" y="26.00" width="142.00" height="141.50" fill="none" stroke="#000" stroke-width="0.5"/>
<line x1="551.30" y1="167.50" x2="551.30" y2="169.40" stroke="#000" stroke-width="0.5"/>
<text x="551.30" y="177.30" font-size="7.8">1</text>
<line x1="564.90" y1="167.50" x2="564.90" y2="169.40" stroke="#000" stroke-width="0.5"/>
<text x="564.90" y="177.30" font-size="7.8">2</text>
<line x1="578.50" y1="167.50" x2="578.50" y2="169.40" stroke="#000" stroke-width="0.5"/>
<text x="578.50" y="177.30" font-size="7.8">3</text>
<line x1="592.10" y1="167.50" x2="592.10" y2="169.40" stroke="#000" stroke-width="0.5"/>
<text x="592.10" y="177.30" font-size="7.8">4</text>
<line x1="605.70" y1="167.50" x2="605.70" y2="169.40" stroke="#000" stroke-width="0.5"/>
<text x="605.70" y="177.30" font-size="7.8">5</text>
<line x1="619.30" y1="167.50" x2="619.30" y2="169.40" stroke="#000" stroke-width="0.5"/>
<text x="619.30" y="177.30" font-size="7.8">6</text>
<line x1="632.90" y1="167.50" x2="632.90" y2="169.40" stroke="#000" stroke-width="0.5"/>
<text x="632.90" y="177.30" font-size="7.8">7</text>
<line x1="646.50" y1="167.50" x2="646.50" y2="169.40" stroke="#000" stroke-width="0.5"/>
<text x="646.50" y="177.30" font-size="7.8">8</text>
<line x1="660.10" y1="167.50" x2="660.10" y2="169.40" stroke="#000" stroke-width="0.5"/>
<text x="660.10" y="177.30" font-size="7.8">9</text>
<line x1="673.70" y1="167.50" x2="673.70" y2="169.40" stroke="#000" stroke-width="0.5"/>
<text x="673.70" y="177.30" font-size="7.8">10</text>
<line x1="539.70" y1="26.00" x2="541.60" y2="26.00" stroke="#000" stroke-width="0.5"/>
<text class="e" x="537.90" y="29.18" font-size="8.0">1.0</text>
<line x1="539.70" y1="51.70" x2="541.60" y2="51.70" stroke="#000" stroke-width="0.5"/>
<text class="e" x="537.90" y="54.88" font-size="8.0">0.8</text>
<line x1="539.70" y1="77.40" x2="541.60" y2="77.40" stroke="#000" stroke-width="0.5"/>
<text class="e" x="537.90" y="80.58" font-size="8.0">0.6</text>
<line x1="539.70" y1="103.10" x2="541.60" y2="103.10" stroke="#000" stroke-width="0.5"/>
<text class="e" x="537.90" y="106.28" font-size="8.0">0.4</text>
<line x1="539.70" y1="128.80" x2="541.60" y2="128.80" stroke="#000" stroke-width="0.5"/>
<text class="e" x="537.90" y="131.98" font-size="8.0">0.2</text>
<line x1="539.70" y1="154.50" x2="541.60" y2="154.50" stroke="#000" stroke-width="0.5"/>
<text class="e" x="537.90" y="157.68" font-size="8.0">0.0</text>
<text x="612.40" y="23.40" font-size="8.0">STN</text>
<text x="612.60" y="187.10" font-size="8.05">#Patient</text>
<text transform="translate(521.30,96.95) rotate(-90)" font-size="7.8"><tspan font-style="italic">ρ</tspan>(|<tspan font-style="italic">on</tspan><tspan font-style="italic" font-size="5.9" dy="1.4">syn</tspan><tspan dy="-1.4" dx="1.95">−</tspan><tspan font-style="italic" dx="1.95">ON</tspan><tspan font-style="italic" font-size="5.9" dy="1.4">emp</tspan><tspan dy="-1.4">|,</tspan><tspan dx="1.95">|</tspan><tspan font-style="italic">off</tspan><tspan font-style="italic" font-size="5.9" dy="1.4">syn</tspan><tspan dy="-1.4" dx="1.95">−</tspan><tspan font-style="italic" dx="1.95">OFF</tspan><tspan font-style="italic" font-size="5.9" dy="1.4">emp</tspan><tspan dy="-1.4">|)</tspan></text>
<rect x="360.60" y="208.80" width="142.00" height="140.70" fill="#fff" stroke="none"/>
<path d="M370.3,334.8 L371.4,335.2 L372.2,335.6 L373.0,336.1 L373.8,336.5 L373.0,336.9 L372.2,337.4 L371.4,337.8 L370.3,338.2 L369.2,337.8 L368.4,337.4 L367.6,336.9 L366.8,336.5 L367.6,336.1 L368.4,335.6 L369.2,335.2Z" fill="#808080" fill-opacity="0.6" stroke="none"/>
<path d="M370.30,334.90V338.10M366.90,336.50H373.70" stroke="#808080" stroke-width="0.75" fill="none"/>
<path d="M383.9,334.8 L385.0,335.2 L385.8,335.6 L386.6,336.1 L387.4,336.5 L386.6,336.9 L385.8,337.4 L385.0,337.8 L383.9,338.2 L382.8,337.8 L382.0,337.4 L381.2,336.9 L380.4,336.5 L381.2,336.1 L382.0,335.6 L382.8,335.2Z" fill="#808080" fill-opacity="0.6" stroke="none"/>
<path d="M383.90,334.90V338.10M380.50,336.50H387.30" stroke="#808080" stroke-width="0.75" fill="none"/>
<path d="M397.5,334.1 L398.6,334.7 L399.4,335.3 L400.2,335.9 L401.0,336.5 L400.2,337.1 L399.4,337.7 L398.6,338.3 L397.5,338.9 L396.4,338.3 L395.6,337.7 L394.8,337.1 L394.0,336.5 L394.8,335.9 L395.6,335.3 L396.4,334.7Z" fill="#808080" fill-opacity="0.6" stroke="none"/>
<path d="M397.50,332.90V340.50M394.10,336.50H400.90" stroke="#808080" stroke-width="0.75" fill="none"/>
<path d="M411.1,334.1 L412.2,334.7 L413.0,335.3 L413.8,335.9 L414.6,336.5 L413.8,337.1 L413.0,337.7 L412.2,338.3 L411.1,338.9 L410.0,338.3 L409.2,337.7 L408.4,337.1 L407.6,336.5 L408.4,335.9 L409.2,335.3 L410.0,334.7Z" fill="#808080" fill-opacity="0.6" stroke="none"/>
<path d="M411.10,333.50V339.50M407.70,336.50H414.50" stroke="#808080" stroke-width="0.75" fill="none"/>
<path d="M424.7,334.3 L425.8,334.9 L426.6,335.4 L427.4,335.9 L428.2,336.5 L427.4,337.1 L426.6,337.6 L425.8,338.1 L424.7,338.7 L423.6,338.1 L422.8,337.6 L422.0,337.1 L421.2,336.5 L422.0,335.9 L422.8,335.4 L423.6,334.9Z" fill="#808080" fill-opacity="0.6" stroke="none"/>
<path d="M424.70,333.70V339.30M421.30,336.50H428.10" stroke="#808080" stroke-width="0.75" fill="none"/>
<path d="M438.3,334.5 L439.4,335.0 L440.2,335.5 L441.0,336.0 L441.8,336.5 L441.0,337.0 L440.2,337.5 L439.4,338.0 L438.3,338.5 L437.2,338.0 L436.4,337.5 L435.6,337.0 L434.8,336.5 L435.6,336.0 L436.4,335.5 L437.2,335.0Z" fill="#808080" fill-opacity="0.6" stroke="none"/>
<path d="M438.30,334.00V339.00M434.90,336.50H441.70" stroke="#808080" stroke-width="0.75" fill="none"/>
<path d="M451.9,334.6 L453.0,335.1 L453.8,335.6 L454.6,336.0 L455.4,336.5 L454.6,337.0 L453.8,337.4 L453.0,337.9 L451.9,338.4 L450.8,337.9 L450.0,337.4 L449.2,337.0 L448.4,336.5 L449.2,336.0 L450.0,335.6 L450.8,335.1Z" fill="#808080" fill-opacity="0.6" stroke="none"/>
<path d="M451.90,334.30V338.70M448.50,336.50H455.30" stroke="#808080" stroke-width="0.75" fill="none"/>
<path d="M465.5,334.1 L466.6,334.7 L467.4,335.3 L468.2,335.9 L469.0,336.5 L468.2,337.1 L467.4,337.7 L466.6,338.3 L465.5,338.9 L464.4,338.3 L463.6,337.7 L462.8,337.1 L462.0,336.5 L462.8,335.9 L463.6,335.3 L464.4,334.7Z" fill="#808080" fill-opacity="0.6" stroke="none"/>
<path d="M465.50,333.00V340.00M462.10,336.50H468.90" stroke="#808080" stroke-width="0.75" fill="none"/>
<path d="M479.1,333.3 L480.2,334.1 L481.0,334.9 L481.8,335.7 L482.6,336.5 L481.8,337.3 L481.0,338.1 L480.2,338.9 L479.1,339.7 L478.0,338.9 L477.2,338.1 L476.4,337.3 L475.6,336.5 L476.4,335.7 L477.2,334.9 L478.0,334.1Z" fill="#808080" fill-opacity="0.6" stroke="none"/>
<path d="M479.10,332.50V341.50M475.70,336.50H482.50" stroke="#808080" stroke-width="0.75" fill="none"/>
<path d="M492.7,333.8 L493.8,334.5 L494.6,335.1 L495.4,335.8 L496.2,336.5 L495.4,337.2 L494.6,337.9 L493.8,338.5 L492.7,339.2 L491.6,338.5 L490.8,337.9 L490.0,337.2 L489.2,336.5 L490.0,335.8 L490.8,335.1 L491.6,334.5Z" fill="#808080" fill-opacity="0.6" stroke="none"/>
<path d="M492.70,332.70V340.30M489.30,336.50H496.10" stroke="#808080" stroke-width="0.75" fill="none"/>
<line x1="367.60" y1="241.20" x2="367.60" y2="253.40" stroke="#1fbe46" stroke-opacity="0.55" stroke-width="1.05"/>
<circle cx="367.60" cy="247.40" r="1.7" fill="#1fbe46"/>
<line x1="381.20" y1="283.70" x2="381.20" y2="294.80" stroke="#1fbe46" stroke-opacity="0.55" stroke-width="1.05"/>
<circle cx="381.20" cy="289.40" r="1.7" fill="#1fbe46"/>
<line x1="394.80" y1="238.10" x2="394.80" y2="251.70" stroke="#1fbe46" stroke-opacity="0.55" stroke-width="1.05"/>
<circle cx="394.80" cy="244.90" r="1.7" fill="#1fbe46"/>
<line x1="408.40" y1="248.90" x2="408.40" y2="256.20" stroke="#1fbe46" stroke-opacity="0.55" stroke-width="1.05"/>
<circle cx="408.40" cy="252.60" r="1.7" fill="#1fbe46"/>
<line x1="422.00" y1="265.00" x2="422.00" y2="294.80" stroke="#1fbe46" stroke-opacity="0.55" stroke-width="1.05"/>
<circle cx="422.00" cy="279.90" r="1.7" fill="#1fbe46"/>
<line x1="435.60" y1="230.40" x2="435.60" y2="236.70" stroke="#1fbe46" stroke-opacity="0.55" stroke-width="1.05"/>
<circle cx="435.60" cy="233.50" r="1.7" fill="#1fbe46"/>
<line x1="449.20" y1="245.50" x2="449.20" y2="262.20" stroke="#1fbe46" stroke-opacity="0.55" stroke-width="1.05"/>
<circle cx="449.20" cy="253.70" r="1.7" fill="#1fbe46"/>
<line x1="462.80" y1="252.00" x2="462.80" y2="271.40" stroke="#1fbe46" stroke-opacity="0.55" stroke-width="1.05"/>
<circle cx="462.80" cy="261.60" r="1.7" fill="#1fbe46"/>
<line x1="476.40" y1="258.20" x2="476.40" y2="280.90" stroke="#1fbe46" stroke-opacity="0.55" stroke-width="1.05"/>
<circle cx="476.40" cy="269.60" r="1.7" fill="#1fbe46"/>
<line x1="490.00" y1="241.80" x2="490.00" y2="260.80" stroke="#1fbe46" stroke-opacity="0.55" stroke-width="1.05"/>
<circle cx="490.00" cy="251.40" r="1.7" fill="#1fbe46"/>
<rect x="446.30" y="211.70" width="53.0" height="19.2" rx="0.9" fill="#fff" fill-opacity="0.8" stroke="#d0d0d0" stroke-width="0.5"/>
<rect x="448.20" y="215.30" width="12.2" height="3.9" fill="#12a035" stroke="#12a035" stroke-width="0.6"/>
<rect x="448.00" y="223.50" width="12.6" height="4.2" fill="#b0b0b0"/>
<text class="s" x="465.00" y="218.75" font-size="6.0">Observed</text>
<text class="s" x="465.00" y="227.40" font-size="6.0">Null Model</text>
<rect x="360.60" y="208.80" width="142.00" height="140.70" fill="none" stroke="#000" stroke-width="0.5"/>
<line x1="370.30" y1="349.50" x2="370.30" y2="351.40" stroke="#000" stroke-width="0.5"/>
<text x="370.30" y="359.30" font-size="7.8">1</text>
<line x1="383.90" y1="349.50" x2="383.90" y2="351.40" stroke="#000" stroke-width="0.5"/>
<text x="383.90" y="359.30" font-size="7.8">2</text>
<line x1="397.50" y1="349.50" x2="397.50" y2="351.40" stroke="#000" stroke-width="0.5"/>
<text x="397.50" y="359.30" font-size="7.8">3</text>
<line x1="411.10" y1="349.50" x2="411.10" y2="351.40" stroke="#000" stroke-width="0.5"/>
<text x="411.10" y="359.30" font-size="7.8">4</text>
<line x1="424.70" y1="349.50" x2="424.70" y2="351.40" stroke="#000" stroke-width="0.5"/>
<text x="424.70" y="359.30" font-size="7.8">5</text>
<line x1="438.30" y1="349.50" x2="438.30" y2="351.40" stroke="#000" stroke-width="0.5"/>
<text x="438.30" y="359.30" font-size="7.8">6</text>
<line x1="451.90" y1="349.50" x2="451.90" y2="351.40" stroke="#000" stroke-width="0.5"/>
<text x="451.90" y="359.30" font-size="7.8">7</text>
<line x1="465.50" y1="349.50" x2="465.50" y2="351.40" stroke="#000" stroke-width="0.5"/>
<text x="465.50" y="359.30" font-size="7.8">8</text>
<line x1="479.10" y1="349.50" x2="479.10" y2="351.40" stroke="#000" stroke-width="0.5"/>
<text x="479.10" y="359.30" font-size="7.8">9</text>
<line x1="492.70" y1="349.50" x2="492.70" y2="351.40" stroke="#000" stroke-width="0.5"/>
<text x="492.70" y="359.30" font-size="7.8">10</text>
<line x1="358.70" y1="208.80" x2="360.60" y2="208.80" stroke="#000" stroke-width="0.5"/>
<text class="e" x="356.90" y="212.18" font-size="8.0">1.0</text>
<line x1="358.70" y1="234.34" x2="360.60" y2="234.34" stroke="#000" stroke-width="0.5"/>
<text class="e" x="356.90" y="237.72" font-size="8.0">0.8</text>
<line x1="358.70" y1="259.88" x2="360.60" y2="259.88" stroke="#000" stroke-width="0.5"/>
<text class="e" x="356.90" y="263.26" font-size="8.0">0.6</text>
<line x1="358.70" y1="285.42" x2="360.60" y2="285.42" stroke="#000" stroke-width="0.5"/>
<text class="e" x="356.90" y="288.80" font-size="8.0">0.4</text>
<line x1="358.70" y1="310.96" x2="360.60" y2="310.96" stroke="#000" stroke-width="0.5"/>
<text class="e" x="356.90" y="314.34" font-size="8.0">0.2</text>
<line x1="358.70" y1="336.50" x2="360.60" y2="336.50" stroke="#000" stroke-width="0.5"/>
<text class="e" x="356.90" y="339.88" font-size="8.0">0.0</text>
<text x="431.40" y="206.20" font-size="8.0">Cortical channels</text>
<text x="431.60" y="369.10" font-size="8.05">#Patient</text>
<text transform="translate(340.30,279.35) rotate(-90)" font-size="7.8"><tspan font-style="italic">ρ</tspan>(|<tspan font-style="italic">on</tspan><tspan font-style="italic" font-size="5.9" dy="1.4">syn</tspan><tspan dy="-1.4" dx="1.95">−</tspan><tspan font-style="italic" dx="1.95">off</tspan><tspan font-style="italic" font-size="5.9" dy="1.4">syn</tspan><tspan dy="-1.4">|,</tspan><tspan dx="1.95">|</tspan><tspan font-style="italic">ON</tspan><tspan font-style="italic" font-size="5.9" dy="1.4">emp</tspan><tspan dy="-1.4" dx="1.95">−</tspan><tspan font-style="italic" dx="1.95">OFF</tspan><tspan font-style="italic" font-size="5.9" dy="1.4">emp</tspan><tspan dy="-1.4">|)</tspan></text>
<rect x="541.60" y="208.00" width="142.30" height="141.50" fill="#fff" stroke="none"/>
<path d="M551.3,334.5 L552.4,335.0 L553.2,335.5 L554.0,336.0 L554.8,336.5 L554.0,337.0 L553.2,337.5 L552.4,338.0 L551.3,338.5 L550.2,338.0 L549.4,337.5 L548.6,337.0 L547.8,336.5 L548.6,336.0 L549.4,335.5 L550.2,335.0Z" fill="#808080" fill-opacity="0.6" stroke="none"/>
<path d="M551.30,334.10V338.90M547.90,336.50H554.70" stroke="#808080" stroke-width="0.75" fill="none"/>
<path d="M565.0,334.5 L566.0,335.0 L566.9,335.5 L567.7,336.0 L568.5,336.5 L567.7,337.0 L566.9,337.5 L566.0,338.0 L565.0,338.5 L563.9,338.0 L563.0,337.5 L562.2,337.0 L561.5,336.5 L562.2,336.0 L563.0,335.5 L563.9,335.0Z" fill="#808080" fill-opacity="0.6" stroke="none"/>
<path d="M564.95,334.30V338.70M561.55,336.50H568.35" stroke="#808080" stroke-width="0.75" fill="none"/>
<path d="M578.6,334.0 L579.7,334.6 L580.5,335.2 L581.3,335.9 L582.1,336.5 L581.3,337.1 L580.5,337.8 L579.7,338.4 L578.6,339.0 L577.5,338.4 L576.7,337.8 L575.9,337.1 L575.1,336.5 L575.9,335.9 L576.7,335.2 L577.5,334.6Z" fill="#808080" fill-opacity="0.6" stroke="none"/>
<path d="M578.60,332.70V340.30M575.20,336.50H582.00" stroke="#808080" stroke-width="0.75" fill="none"/>
<path d="M592.3,334.0 L593.3,334.6 L594.2,335.2 L595.0,335.9 L595.8,336.5 L595.0,337.1 L594.2,337.8 L593.3,338.4 L592.3,339.0 L591.2,338.4 L590.3,337.8 L589.5,337.1 L588.8,336.5 L589.5,335.9 L590.3,335.2 L591.2,334.6Z" fill="#808080" fill-opacity="0.6" stroke="none"/>
<path d="M592.25,332.70V340.30M588.85,336.50H595.65" stroke="#808080" stroke-width="0.75" fill="none"/>
<path d="M605.9,334.2 L607.0,334.8 L607.8,335.4 L608.6,335.9 L609.4,336.5 L608.6,337.1 L607.8,337.6 L607.0,338.2 L605.9,338.8 L604.8,338.2 L604.0,337.6 L603.2,337.1 L602.4,336.5 L603.2,335.9 L604.0,335.4 L604.8,334.8Z" fill="#808080" fill-opacity="0.6" stroke="none"/>
<path d="M605.90,333.50V339.50M602.50,336.50H609.30" stroke="#808080" stroke-width="0.75" fill="none"/>
<path d="M619.6,334.4 L620.6,334.9 L621.5,335.4 L622.3,336.0 L623.1,336.5 L622.3,337.0 L621.5,337.6 L620.6,338.1 L619.6,338.6 L618.5,338.1 L617.6,337.6 L616.8,337.0 L616.1,336.5 L616.8,336.0 L617.6,335.4 L618.5,334.9Z" fill="#808080" fill-opacity="0.6" stroke="none"/>
<path d="M619.55,333.80V339.20M616.15,336.50H622.95" stroke="#808080" stroke-width="0.75" fill="none"/>
<path d="M633.2,334.4 L634.3,334.9 L635.1,335.4 L635.9,336.0 L636.7,336.5 L635.9,337.0 L635.1,337.6 L634.3,338.1 L633.2,338.6 L632.1,338.1 L631.3,337.6 L630.5,337.0 L629.7,336.5 L630.5,336.0 L631.3,335.4 L632.1,334.9Z" fill="#808080" fill-opacity="0.6" stroke="none"/>
<path d="M633.20,333.80V339.20M629.80,336.50H636.60" stroke="#808080" stroke-width="0.75" fill="none"/>
<path d="M646.9,333.7 L647.9,334.4 L648.8,335.1 L649.6,335.8 L650.4,336.5 L649.6,337.2 L648.8,337.9 L647.9,338.6 L646.9,339.3 L645.8,338.6 L644.9,337.9 L644.1,337.2 L643.4,336.5 L644.1,335.8 L644.9,335.1 L645.8,334.4Z" fill="#808080" fill-opacity="0.6" stroke="none"/>
<path d="M646.85,331.00V340.50M643.45,336.50H650.25" stroke="#808080" stroke-width="0.75" fill="none"/>
<path d="M660.5,333.3 L661.6,334.1 L662.4,334.9 L663.2,335.7 L664.0,336.5 L663.2,337.3 L662.4,338.1 L661.6,338.9 L660.5,339.7 L659.4,338.9 L658.6,338.1 L657.8,337.3 L657.0,336.5 L657.8,335.7 L658.6,334.9 L659.4,334.1Z" fill="#808080" fill-opacity="0.6" stroke="none"/>
<path d="M660.50,331.70V341.00M657.10,336.50H663.90" stroke="#808080" stroke-width="0.75" fill="none"/>
<path d="M674.2,333.6 L675.2,334.3 L676.1,335.1 L676.9,335.8 L677.7,336.5 L676.9,337.2 L676.1,337.9 L675.2,338.7 L674.2,339.4 L673.1,338.7 L672.2,337.9 L671.4,337.2 L670.7,336.5 L671.4,335.8 L672.2,335.1 L673.1,334.3Z" fill="#808080" fill-opacity="0.6" stroke="none"/>
<path d="M674.15,331.50V341.00M670.75,336.50H677.55" stroke="#808080" stroke-width="0.75" fill="none"/>
<circle cx="548.60" cy="252.20" r="1.7" fill="#ff3b3b"/>
<circle cx="562.25" cy="275.70" r="1.7" fill="#ff3b3b"/>
<circle cx="575.90" cy="241.60" r="1.7" fill="#ff3b3b"/>
<circle cx="589.55" cy="252.90" r="1.7" fill="#ff3b3b"/>
<line x1="603.20" y1="262.50" x2="603.20" y2="273.20" stroke="#ff3b3b" stroke-opacity="0.8" stroke-width="0.7"/>
<circle cx="603.20" cy="268.00" r="1.7" fill="#ff3b3b"/>
<circle cx="616.85" cy="240.00" r="1.7" fill="#ff3b3b"/>
<circle cx="630.50" cy="248.70" r="1.7" fill="#ff3b3b"/>
<circle cx="644.15" cy="251.60" r="1.7" fill="#ff3b3b"/>
<circle cx="657.80" cy="253.50" r="1.7" fill="#ff3b3b"/>
<circle cx="671.45" cy="244.20" r="1.7" fill="#ff3b3b"/>
<rect x="627.50" y="210.90" width="53.0" height="19.2" rx="0.9" fill="#fff" fill-opacity="0.8" stroke="#d0d0d0" stroke-width="0.5"/>
<rect x="629.90" y="214.50" width="12.2" height="3.9" fill="#ff7a85" stroke="#ff2a2a" stroke-width="0.8"/>
<rect x="629.70" y="222.70" width="12.6" height="4.2" fill="#b0b0b0"/>
<text class="s" x="646.60" y="217.95" font-size="6.0">Observed</text>
<text class="s" x="646.60" y="226.60" font-size="6.0">Null Model</text>
<rect x="541.60" y="208.00" width="142.30" height="141.50" fill="none" stroke="#000" stroke-width="0.5"/>
<line x1="551.30" y1="349.50" x2="551.30" y2="351.40" stroke="#000" stroke-width="0.5"/>
<text x="551.30" y="359.30" font-size="7.8">1</text>
<line x1="564.95" y1="349.50" x2="564.95" y2="351.40" stroke="#000" stroke-width="0.5"/>
<text x="564.95" y="359.30" font-size="7.8">2</text>
<line x1="578.60" y1="349.50" x2="578.60" y2="351.40" stroke="#000" stroke-width="0.5"/>
<text x="578.60" y="359.30" font-size="7.8">3</text>
<line x1="592.25" y1="349.50" x2="592.25" y2="351.40" stroke="#000" stroke-width="0.5"/>
<text x="592.25" y="359.30" font-size="7.8">4</text>
<line x1="605.90" y1="349.50" x2="605.90" y2="351.40" stroke="#000" stroke-width="0.5"/>
<text x="605.90" y="359.30" font-size="7.8">5</text>
<line x1="619.55" y1="349.50" x2="619.55" y2="351.40" stroke="#000" stroke-width="0.5"/>
<text x="619.55" y="359.30" font-size="7.8">6</text>
<line x1="633.20" y1="349.50" x2="633.20" y2="351.40" stroke="#000" stroke-width="0.5"/>
<text x="633.20" y="359.30" font-size="7.8">7</text>
<line x1="646.85" y1="349.50" x2="646.85" y2="351.40" stroke="#000" stroke-width="0.5"/>
<text x="646.85" y="359.30" font-size="7.8">8</text>
<line x1="660.50" y1="349.50" x2="660.50" y2="351.40" stroke="#000" stroke-width="0.5"/>
<text x="660.50" y="359.30" font-size="7.8">9</text>
<line x1="674.15" y1="349.50" x2="674.15" y2="351.40" stroke="#000" stroke-width="0.5"/>
<text x="674.15" y="359.30" font-size="7.8">10</text>
<line x1="539.70" y1="208.00" x2="541.60" y2="208.00" stroke="#000" stroke-width="0.5"/>
<text class="e" x="537.90" y="211.08" font-size="8.0">1.0</text>
<line x1="539.70" y1="233.70" x2="541.60" y2="233.70" stroke="#000" stroke-width="0.5"/>
<text class="e" x="537.90" y="236.78" font-size="8.0">0.8</text>
<line x1="539.70" y1="259.40" x2="541.60" y2="259.40" stroke="#000" stroke-width="0.5"/>
<text class="e" x="537.90" y="262.48" font-size="8.0">0.6</text>
<line x1="539.70" y1="285.10" x2="541.60" y2="285.10" stroke="#000" stroke-width="0.5"/>
<text class="e" x="537.90" y="288.18" font-size="8.0">0.4</text>
<line x1="539.70" y1="310.80" x2="541.60" y2="310.80" stroke="#000" stroke-width="0.5"/>
<text class="e" x="537.90" y="313.88" font-size="8.0">0.2</text>
<line x1="539.70" y1="336.50" x2="541.60" y2="336.50" stroke="#000" stroke-width="0.5"/>
<text class="e" x="537.90" y="339.58" font-size="8.0">0.0</text>
<text x="612.55" y="205.40" font-size="8.0">STN</text>
<text x="612.75" y="369.10" font-size="8.05">#Patient</text>
<text transform="translate(521.30,278.95) rotate(-90)" font-size="7.8"><tspan font-style="italic">ρ</tspan>(|<tspan font-style="italic">on</tspan><tspan font-style="italic" font-size="5.9" dy="1.4">syn</tspan><tspan dy="-1.4" dx="1.95">−</tspan><tspan font-style="italic" dx="1.95">off</tspan><tspan font-style="italic" font-size="5.9" dy="1.4">syn</tspan><tspan dy="-1.4">|,</tspan><tspan dx="1.95">|</tspan><tspan font-style="italic">ON</tspan><tspan font-style="italic" font-size="5.9" dy="1.4">emp</tspan><tspan dy="-1.4" dx="1.95">−</tspan><tspan font-style="italic" dx="1.95">OFF</tspan><tspan font-style="italic" font-size="5.9" dy="1.4">emp</tspan><tspan dy="-1.4">|)</tspan></text>
</svg>
</body></html>
